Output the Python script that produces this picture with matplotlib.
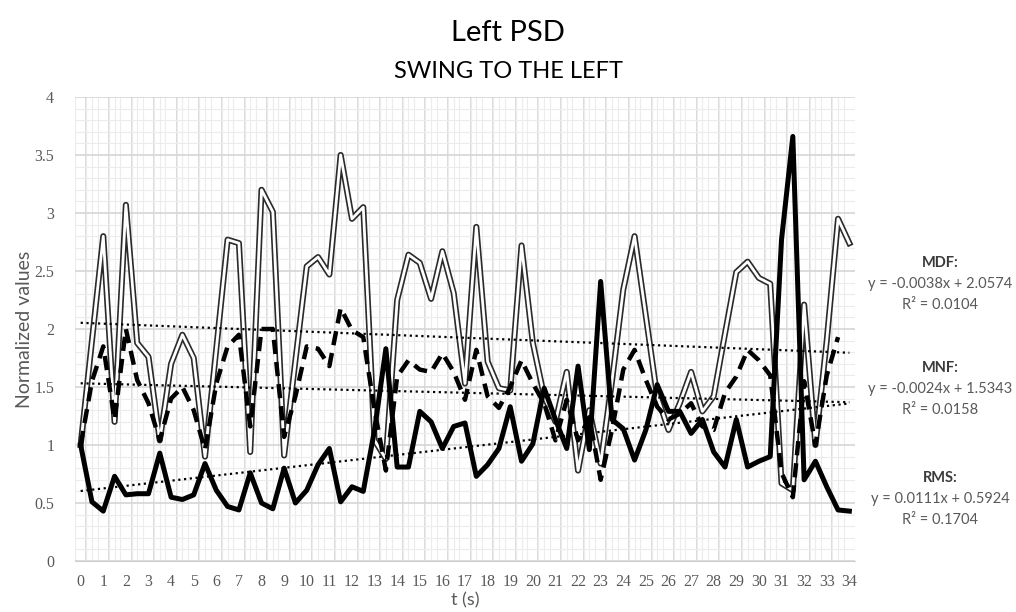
import numpy as np
import matplotlib
matplotlib.use("Agg")
from matplotlib import pyplot as plt
from matplotlib.ticker import FixedLocator, MultipleLocator

# czas (s), co 0.5 s
t = np.arange(0, 34.5, 0.5)

mdf = [1.00, 1.90, 2.80, 1.20, 3.07, 1.88, 1.76, 1.04, 1.70, 1.95,
       1.75, 0.90, 1.83, 2.77, 2.74, 0.94, 3.20, 3.01, 0.91, 1.73,
       2.54, 2.62, 2.47, 3.50, 2.95, 3.05, 1.04, 0.88, 2.25, 2.64,
       2.57, 2.26, 2.67, 2.31, 1.53, 2.88, 1.72, 1.49, 1.47, 2.72,
       1.88, 1.42, 1.20, 1.63, 0.78, 1.30, 0.84, 1.55, 2.34, 2.80,
       2.11, 1.42, 1.13, 1.36, 1.63, 1.29, 1.42, 1.96, 2.49, 2.58,
       2.44, 2.39, 0.67, 0.61, 2.21, 1.00, 1.90, 2.95, 2.74]

mnf = [1.00, 1.55, 1.85, 1.22, 2.00, 1.56, 1.36, 1.04, 1.40, 1.50,
       1.30, 0.96, 1.53, 1.85, 1.95, 1.16, 2.00, 2.00, 1.07, 1.42,
       1.85, 1.83, 1.68, 2.18, 1.99, 1.93, 1.30, 0.78, 1.59, 1.73,
       1.65, 1.63, 1.79, 1.63, 1.39, 1.82, 1.42, 1.32, 1.50, 1.73,
       1.53, 1.36, 1.04, 1.39, 1.04, 1.24, 0.70, 1.13, 1.65, 1.82,
       1.56, 1.33, 1.22, 1.27, 1.36, 1.16, 1.13, 1.45, 1.59, 1.82,
       1.73, 1.60, 0.76, 0.55, 1.55, 1.00, 1.60, 1.93, np.nan]

rms = [1.00, 0.51, 0.43, 0.73, 0.57, 0.58, 0.58, 0.93, 0.55, 0.53,
       0.57, 0.84, 0.61, 0.47, 0.44, 0.76, 0.50, 0.45, 0.80, 0.50,
       0.61, 0.83, 0.97, 0.51, 0.64, 0.60, 1.13, 1.83, 0.81, 0.81,
       1.29, 1.20, 0.97, 1.16, 1.19, 0.73, 0.83, 0.97, 1.33, 0.86,
       1.01, 1.49, 1.22, 0.97, 1.68, 0.96, 2.41, 1.22, 1.14, 0.87,
       1.13, 1.52, 1.29, 1.29, 1.10, 1.22, 0.94, 0.81, 1.22, 0.81,
       0.86, 0.90, 2.77, 3.66, 0.70, 0.86, 0.64, 0.44, 0.43]

# linie trendu (z równań na wykresie)
names = ["MDF", "MNF", "RMS"]
slopes = [-0.0038, -0.0024, 0.0111]
intercepts = [2.0574, 1.5343, 0.5924]
r2 = [0.0104, 0.0158, 0.1704]

grey = "#595959"

fig = plt.figure(figsize=(10.16, 6.12), dpi=100, facecolor="white")
ax = fig.add_axes([75/1016, 1 - 561/612, 780/1016, 464/612])

# siatka
ax.set_xlim(-0.25, 34.25)
ax.set_ylim(0, 4)
ax.xaxis.set_minor_locator(FixedLocator(np.arange(-0.25, 34.3, 0.25)))
ax.yaxis.set_major_locator(MultipleLocator(0.5))
ax.yaxis.set_minor_locator(MultipleLocator(0.1))
ax.grid(True, which="minor", color="#ececec", lw=0.8)
ax.grid(True, which="major", axis="y", color="#d6d6d6", lw=1.2)
ax.vlines(np.arange(0.25, 34.25, 1), 0, 4, color="#d6d6d6", lw=1.2, zorder=0.5)
ax.set_axisbelow(True)

# serie
idx = np.arange(1, len(t) + 1)
ax.plot(t, mdf, color="#2a2a2a", lw=4.4, solid_joinstyle="round", zorder=2)
ax.plot(t, mdf, color="white", lw=2.0, solid_joinstyle="round", zorder=2.1)
ax.plot(t, mnf, color="black", lw=3.2, dashes=(3.2, 1.8), dash_capstyle="butt",
        dash_joinstyle="round", zorder=3)
ax.plot(t, rms, color="black", lw=3.6, solid_joinstyle="round", zorder=4)
for a, b in zip(slopes, intercepts):
    ax.plot(t, a * idx + b, color="black", lw=1.6, linestyle=(0, (1, 1.6)), zorder=5)

ax.set_xticks(range(0, 35))
ax.tick_params(axis="both", which="both", length=0, labelcolor=grey, labelsize=11.5)
ax.tick_params(axis="x", pad=9)
ax.tick_params(axis="y", pad=15)
for lab in ax.get_xticklabels():
    lab.set_fontfamily("Liberation Serif")
ax.set_yticks([0, 0.5, 1, 1.5, 2, 2.5, 3, 3.5, 4])
ax.set_yticklabels(["0", "0.5", "1", "1.5", "2", "2.5", "3", "3.5", "4"],
                   family="Liberation Serif")

for s in ["top", "right", "left"]:
    ax.spines[s].set_visible(False)
ax.spines["bottom"].set_color("#d0d0d0")

ax.set_xlabel("t (s)", color=grey, fontsize=13, family="Lato", labelpad=2)
ax.set_ylabel("Normalized values", color=grey, fontsize=14, family="Lato")
ax.yaxis.set_label_coords(-0.054, 0.5)

fig.text(0.5, 1 - 33/612, "Left PSD", ha="center", va="center", fontsize=21, family="Lato")
fig.text(0.5, 1 - 72/612, "SWING TO THE LEFT", ha="center", va="center", fontsize=17, family="Lato")

# opisy po prawej
ys = [263, 368, 478]
for n, a, b, r, y in zip(names, slopes, intercepts, r2, ys):
    fig.text(940/1016, 1 - y/612, n + ":", ha="center", va="center", fontsize=10.5,
             family="Lato", weight="bold", color="#3a3a3a")
    fig.text(940/1016, 1 - (y + 21)/612, f"y = {a:.4f}x + {b:.4f}", ha="center", va="center",
             fontsize=10.5, family="Lato", color=grey)
    fig.text(940/1016, 1 - (y + 42)/612, f"R² = {r:.4f}", ha="center", va="center",
             fontsize=10.5, family="Lato", color=grey)

fig.savefig("out.png", dpi=100)
